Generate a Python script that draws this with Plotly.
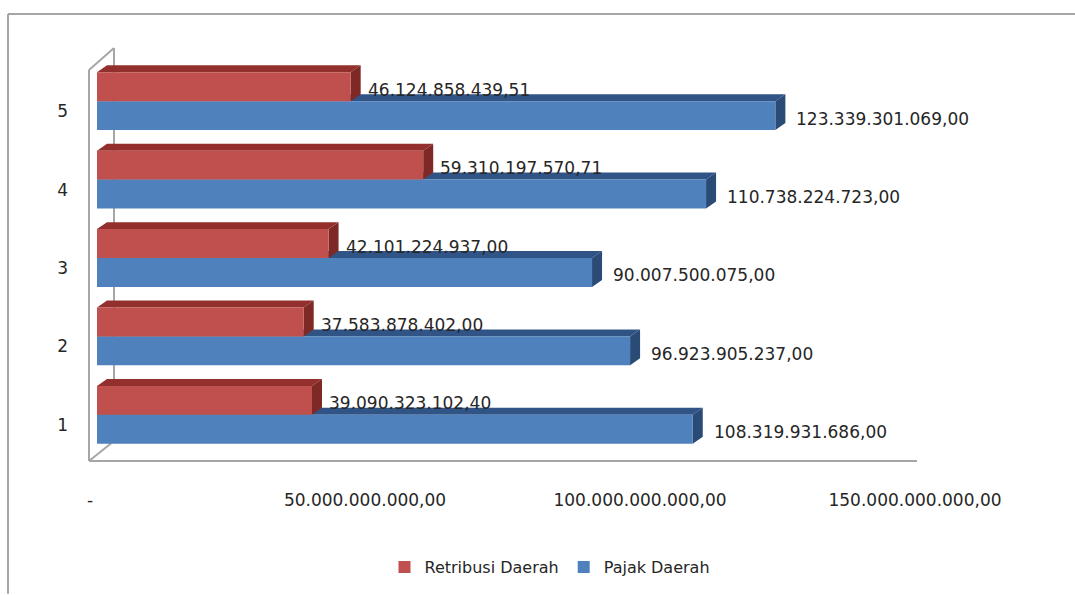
import plotly.graph_objects as go

# ---------------- data ----------------
categories = [1, 2, 3, 4, 5]
retribusi = [39090323102.40, 37583878402.00, 42101224937.00, 59310197570.71, 46124858439.51]
pajak = [108319931686.00, 96923905237.00, 90007500075.00, 110738224723.00, 123339301069.00]
tick_vals = [0, 50e9, 100e9, 150e9]
tick_text = ["-", "50.000.000.000,00", "100.000.000.000,00", "150.000.000.000,00"]
series_names = ["Pajak Daerah", "Retribusi Daerah"]

# ---------------- style ----------------
W, H = 1075, 595
ML, MR, MT, MB = 97, 153, 62, 140
PW, PH = W - ML - MR, H - MT - MB
XMAX = 150e9
BARGAP = 0.263
FONT = "DejaVu Sans"
TXT = "#262626"
RED, RED_TOP, RED_SIDE = "#C0504D", "#93302D", "#7E2926"
BLUE, BLUE_TOP, BLUE_SIDE = "#4F81BD", "#2F5485", "#2A4B76"
WALL = "#A6A6A6"

# 3D depth offsets in pixels -> data units
DXP, DYP = 10, 7
DX = DXP * XMAX / PW
DY = DYP * 5 / PH
half = (1 - BARGAP) / 2          # width of each bar in category units


def fmt(v):
    s = f"{v:,.2f}"
    return s.replace(",", "X").replace(".", ",").replace("X", ".")


def pp(x, y):
    """pixel -> paper coordinates"""
    return (x - ML) / PW, (H - MB - y) / PH


fig = go.Figure()
fig.add_trace(go.Bar(y=categories, x=pajak, orientation="h", name=series_names[0],
                     marker=dict(color=BLUE, line=dict(width=0))))
fig.add_trace(go.Bar(y=categories, x=retribusi, orientation="h", name=series_names[1],
                     marker=dict(color=RED, line=dict(width=0))))

shapes = []


def faces(vals, offset_sign, top_col, side_col):
    out = []
    for c, v in zip(categories, vals):
        if offset_sign < 0:
            bot, top = c - half, c
        else:
            bot, top = c, c + half
        # top face
        out.append(dict(type="path", xref="x", yref="y", layer="below",
                        path=f"M0,{top} L{DX},{top+DY} L{v+DX},{top+DY} L{v},{top} Z",
                        fillcolor=top_col, line=dict(width=0)))
        # side face
        out.append(dict(type="path", xref="x", yref="y", layer="below",
                        path=f"M{v},{bot} L{v},{top} L{v+DX},{top+DY} L{v+DX},{bot+DY} Z",
                        fillcolor=side_col, line=dict(width=0)))
    return out


shapes += faces(pajak, -1, BLUE_TOP, BLUE_SIDE)
shapes += faces(retribusi, +1, RED_TOP, RED_SIDE)


def line_px(x0, y0, x1, y1, width=2):
    a0, b0 = pp(x0, y0)
    a1, b1 = pp(x1, y1)
    return dict(type="line", xref="paper", yref="paper", x0=a0, y0=b0, x1=a1, y1=b1,
                line=dict(color=WALL, width=width), layer="below")


# walls / floor of the 3D frame
shapes += [
    line_px(89, 462, 89, 70),
    line_px(89, 70, 114, 48),
    line_px(114, 48, 114, 442),
    line_px(89, 462, 114, 442),
    line_px(89, 462, 917, 462),
    # outer chart border
    line_px(8, 14, 1075, 14),
    line_px(8, 14, 8, 595),
]

annotations = []
for c, v in zip(categories, retribusi):
    annotations.append(dict(x=v, y=c + half / 2, xref="x", yref="y", text=fmt(v),
                            showarrow=False, xanchor="left", yanchor="middle",
                            xshift=15, yshift=-3, font=dict(size=17, color=TXT, family=FONT)))
for c, v in zip(categories, pajak):
    annotations.append(dict(x=v, y=c - half / 2, xref="x", yref="y", text=fmt(v),
                            showarrow=False, xanchor="left", yanchor="middle",
                            xshift=19, yshift=-3, font=dict(size=17, color=TXT, family=FONT)))

lx, ly = pp(550, 567)
fig.update_layout(
    width=W, height=H,
    margin=dict(l=ML, r=MR, t=MT, b=MB, pad=0),
    paper_bgcolor="white", plot_bgcolor="rgba(0,0,0,0)",
    barmode="group", bargap=BARGAP, bargroupgap=0,
    font=dict(family=FONT, size=16, color=TXT),
    xaxis=dict(range=[0, XMAX], tickvals=tick_vals, ticktext=tick_text,
               showgrid=False, zeroline=False, showline=False, ticks="",
               ticklabelstandoff=34, ticklabelshift=-7,
               tickfont=dict(size=17, color=TXT, family=FONT)),
    yaxis=dict(range=[0.5, 5.5], tickvals=categories, ticktext=[str(c) for c in categories],
               showgrid=False, zeroline=False, showline=False, ticks="",
               ticklabelstandoff=28, ticklabelshift=10,
               tickfont=dict(size=17, color=TXT, family=FONT)),
    shapes=shapes,
    annotations=annotations,
    legend=dict(orientation="h", x=lx, y=ly, xanchor="center", yanchor="middle",
                traceorder="reversed", font=dict(size=16, color=TXT, family=FONT),
                itemwidth=30, bgcolor="rgba(0,0,0,0)"),
    showlegend=True,
)

fig.write_html("out.html")
